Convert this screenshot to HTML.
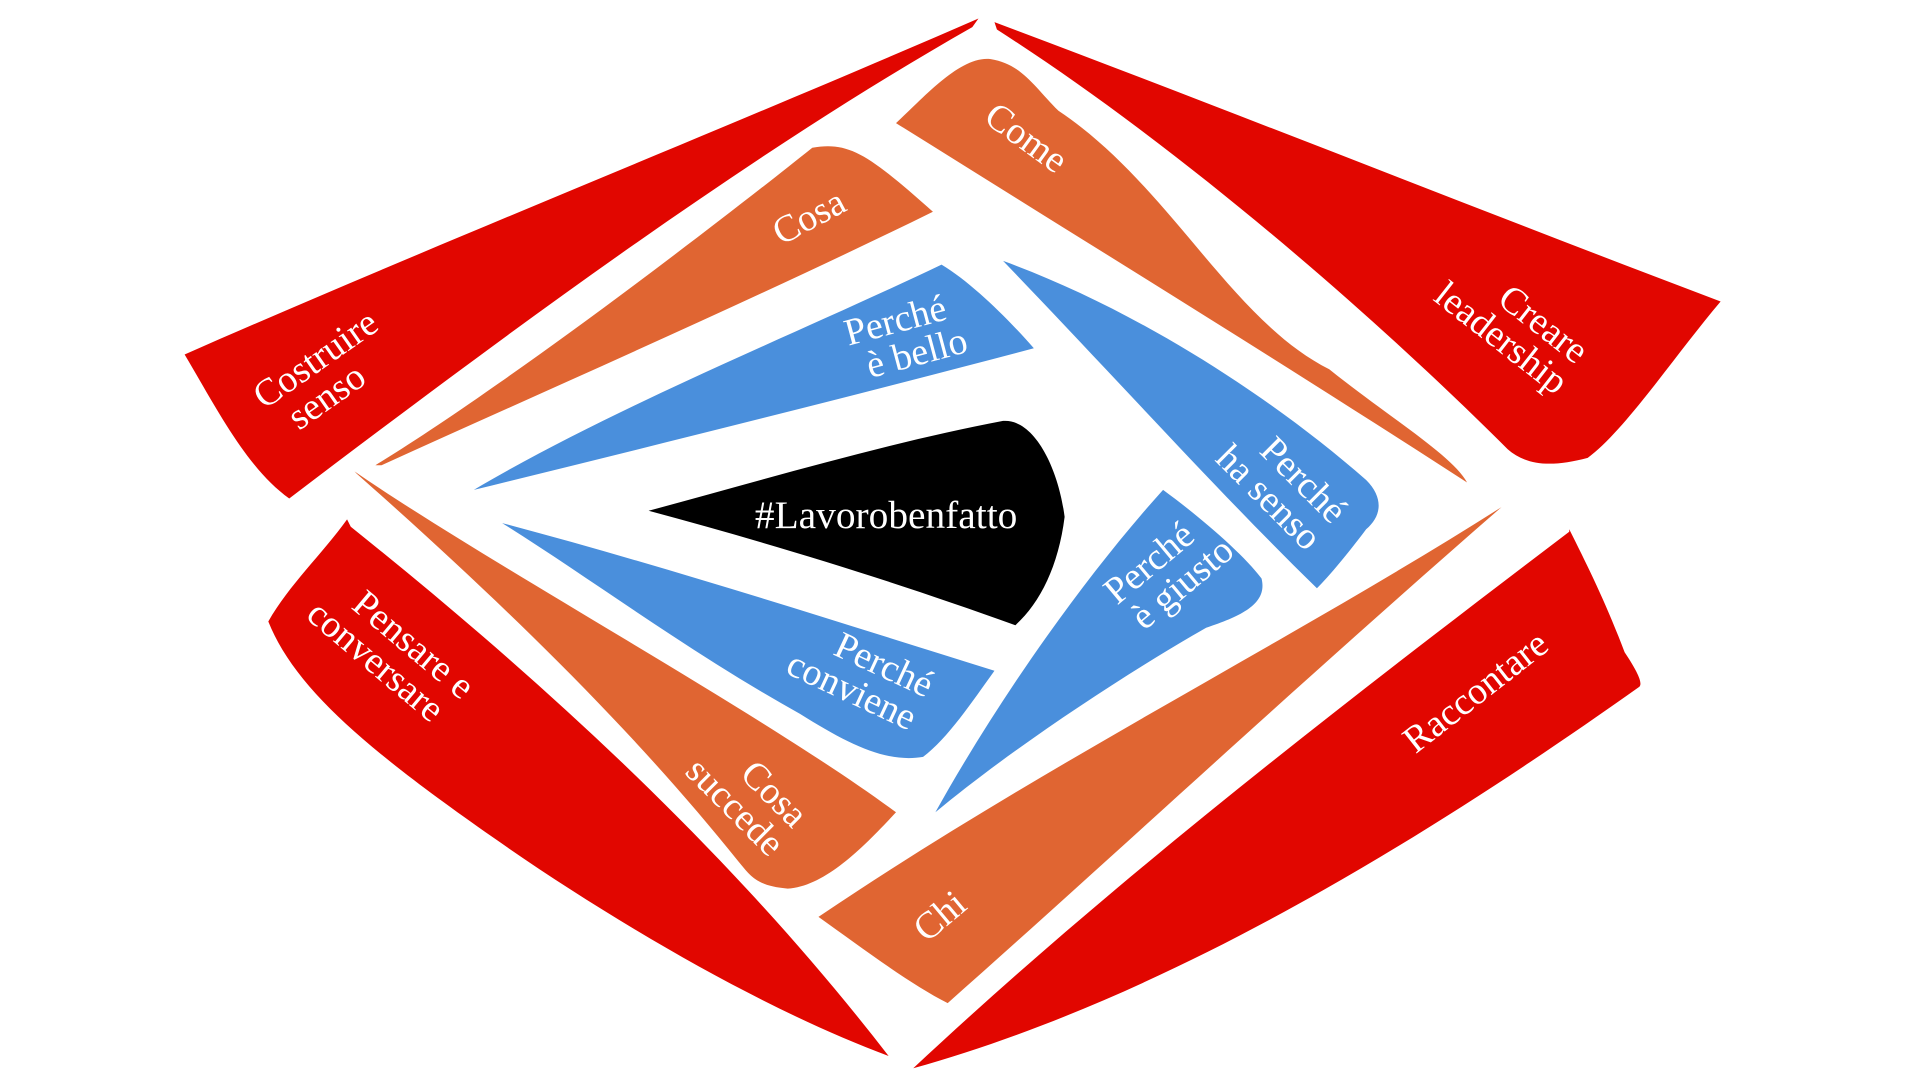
<!DOCTYPE html>
<html><head><meta charset="utf-8"><style>
html,body{margin:0;padding:0;background:#fff;width:1920px;height:1080px;overflow:hidden}
svg{display:block}
text{font-family:"Liberation Serif",serif;fill:#fff;text-anchor:middle}
</style></head><body>
<svg width="1920" height="1080" viewBox="0 0 1560 877.5" preserveAspectRatio="none">
<g fill="#e10600">
<path d="M795,15 C600,100 350,200 150,288 C175,330 200,380 235,405 C400,280 600,130 790,22 Z"/>
<path d="M808,18 C1000,90 1200,170 1398,245 C1360,290 1320,350 1290,372 C1260,380 1240,378 1225,365 C1120,260 960,120 810,24 Z"/>
<path d="M282,422 C262,450 235,475 218,505 C240,560 300,610 400,680 C500,750 620,820 722,858 C600,700 450,560 285,428 Z"/>
<path d="M1275,430 C1290,460 1305,490 1320,530 C1330,545 1335,555 1332,558 C1160,680 950,810 742,868 C900,720 1080,580 1275,432 Z"/>
</g>
<g fill="#e06532">
<path d="M728,100 C750,80 780,45 805,48 C830,52 840,70 860,90 C950,150 1000,260 1080,300 C1130,340 1180,370 1192,392 C1050,300 880,195 728,100 Z"/>
<path d="M305,378 C400,320 560,200 660,120 C690,115 705,125 758,172 C620,240 460,310 310,378 Z"/>
<path d="M288,383 C400,460 620,580 728,660 C700,690 670,720 640,722 C615,720 610,712 600,700 C520,600 420,500 290,385 Z"/>
<path d="M665,745 C700,770 740,800 770,815 C900,700 1050,560 1220,412 C1050,520 850,620 665,745 Z"/>
</g>
<g fill="#4a8fdc">
<path d="M385,398 C500,330 650,270 765,215 C790,230 820,260 840,283 C700,320 540,360 385,398 Z"/>
<path d="M815,212 C920,250 1030,320 1110,390 C1125,405 1122,420 1110,430 C1095,450 1080,468 1070,478 C990,400 900,300 815,212 Z"/>
<path d="M408,425 C540,460 680,505 808,545 C790,570 770,600 750,615 C720,620 690,605 650,580 C560,530 480,470 408,425 Z"/>
<path d="M945,398 C975,420 1010,450 1025,470 C1030,490 1010,500 980,510 C910,550 820,610 760,660 C810,570 880,470 945,398 Z"/>
</g>
<path fill="#000" d="M527,415 C620,390 720,360 815,342 C840,340 860,380 865,420 C860,460 845,490 825,508 C720,470 620,440 527,415 Z"/>
<g font-size="31">
<text transform="translate(262,300) rotate(-35)"><tspan x="0" y="0">Costruire</tspan><tspan x="-10" y="30">senso</tspan></text>
<text transform="translate(662,185) rotate(-28)">Cosa</text>
<text transform="translate(828,120) rotate(36)">Come</text>
<text transform="translate(1240,265) rotate(38)"><tspan x="10" y="0">Creare</tspan><tspan x="-10" y="30">leadership</tspan></text>
<text transform="translate(730,270) rotate(-15)"><tspan x="0" y="0">Perché</tspan><tspan x="10" y="30">è bello</tspan></text>
<text transform="translate(1045,390) rotate(45)"><tspan x="10" y="0">Perché</tspan><tspan x="0" y="30">ha senso</tspan></text>
<text transform="translate(940,465) rotate(-40)"><tspan x="0" y="0">Perché</tspan><tspan x="10" y="30">è giusto</tspan></text>
<text transform="translate(705,545) rotate(25)"><tspan x="10" y="0">Perché</tspan><tspan x="-5" y="30">conviene</tspan></text>
<text transform="translate(615,645) rotate(45)"><tspan x="10" y="0">Cosa</tspan><tspan x="-5" y="30">succede</tspan></text>
<text transform="translate(322,525) rotate(40)"><tspan x="10" y="0">Pensare e</tspan><tspan x="-5" y="30">conversare</tspan></text>
<text transform="translate(770,752) rotate(-40)">Chi</text>
<text transform="translate(1205,570) rotate(-38)">Raccontare</text>
</g>
<text x="720" y="429" font-size="32">#Lavorobenfatto</text>
</svg>
</body></html>
